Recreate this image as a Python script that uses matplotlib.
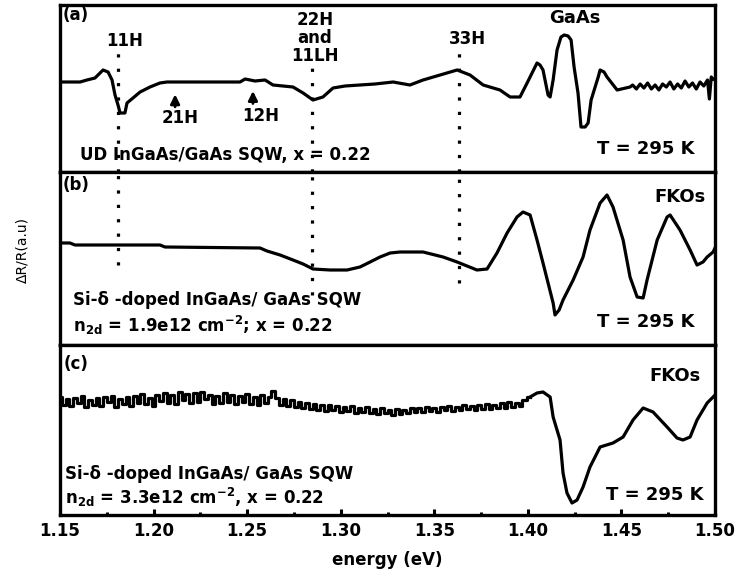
import matplotlib
matplotlib.use("Agg")
import matplotlib.pyplot as plt
from matplotlib.ticker import MultipleLocator, FormatStrFormatter

plt.rcParams['font.family'] = ['DejaVu Sans']
plt.rcParams['mathtext.fontset'] = 'dejavusans'

# ---------------- data (arbitrary units) ----------------
energy_a = [1.1500, 1.1607, 1.1644, 1.1687, 1.1730, 1.1757, 1.1778, 1.1794, 1.1810,
            1.1821, 1.1847, 1.1858, 1.1890, 1.1928, 1.1981, 1.2034, 1.2072, 1.2462,
            1.2489, 1.2542, 1.2596, 1.2638, 1.2745, 1.2799, 1.2852, 1.2905, 1.2959,
            1.3023, 1.3103, 1.3183, 1.3280, 1.3370, 1.3440, 1.3531, 1.3622, 1.3691,
            1.3761, 1.3851, 1.3905, 1.3958, 1.3996, 1.4049, 1.4065, 1.4081, 1.4108,
            1.4119, 1.4135, 1.4156, 1.4177, 1.4194, 1.4215, 1.4231, 1.4247, 1.4268,
            1.4284, 1.4306, 1.4322, 1.4338, 1.4376, 1.4386, 1.4407, 1.4423, 1.4477,
            1.4546, 1.456, 1.458, 1.460, 1.462, 1.464, 1.466, 1.468, 1.470, 1.472,
            1.474, 1.476, 1.478, 1.480, 1.482, 1.484, 1.486, 1.488, 1.490, 1.492,
            1.494, 1.496, 1.497, 1.498, 1.499, 1.500]
signal_a = [1, 1, 3, 5, 13, 11, 3, -12, -22,
            -30, -30, -20, -15, -9, -4, 0, 1, 1,
            4, 2, 3, -2, -4, -10, -17, -14, -5,
            -3, -2, -1, 1, -2, 3, 8, 13, 8,
            -2, -7, -14, -14, 0, 20, 18, 13, -12,
            -14, 3, 33, 46, 48, 47, 43, 16, -10,
            -44, -44, -40, -17, 6, 13, 11, 6, -7,
            -4, -2, -6, -1, -5, 0, -6, -2, -7, -1,
            -4, 1, -6, -1, -5, 2, -4, 0, -6, 1,
            -3, 3, -16, 6, 4, 3]

energy_b = [1.1500, 1.1553, 1.1580, 1.1607, 1.2034, 1.2061, 1.2569, 1.2606, 1.2676,
            1.2745, 1.2799, 1.2852, 1.2943, 1.3034, 1.3103, 1.3157, 1.3210, 1.3264,
            1.3317, 1.3440, 1.3547, 1.3622, 1.3675, 1.3728, 1.3782, 1.3835, 1.3889,
            1.3942, 1.3974, 1.4012, 1.4049, 1.4081, 1.4108, 1.4135, 1.4145, 1.4167,
            1.4188, 1.4242, 1.4295, 1.4332, 1.4386, 1.4423, 1.4455, 1.4509, 1.4546,
            1.4584, 1.4616, 1.4637, 1.4691, 1.4744, 1.4760, 1.4813, 1.4867, 1.4904,
            1.4936, 1.4958, 1.4990, 1.5000]
signal_b = [7, 7, 5, 5, 5, 3, 2, -1, -5,
            -10, -14, -19, -20, -20, -17, -12, -7, -3,
            -2, -2, -7, -12, -16, -20, -19, -3, 17,
            33, 38, 35, 10, -13, -33, -53, -65, -60,
            -50, -30, -7, 20, 47, 55, 43, 10, -27,
            -47, -48, -30, 10, 33, 35, 20, 0, -15,
            -12, -7, -2, 2]

energy_c = [1.150, 1.152, 1.154, 1.156, 1.158, 1.160, 1.162, 1.164, 1.166, 1.168,
            1.170, 1.172, 1.174, 1.176, 1.178, 1.180, 1.182, 1.184, 1.186, 1.188,
            1.190, 1.192, 1.194, 1.196, 1.198, 1.200, 1.202, 1.204, 1.206, 1.208,
            1.210, 1.212, 1.214, 1.216, 1.218, 1.220, 1.222, 1.224, 1.226, 1.228,
            1.230, 1.232, 1.234, 1.236, 1.238, 1.240, 1.242, 1.244, 1.246, 1.248,
            1.250, 1.252, 1.254, 1.256, 1.258, 1.260, 1.262, 1.264, 1.266, 1.268,
            1.270, 1.272, 1.274, 1.276, 1.278, 1.280, 1.282, 1.284, 1.286, 1.288,
            1.290, 1.292, 1.294, 1.296, 1.298, 1.300, 1.302, 1.304, 1.306, 1.308,
            1.310, 1.312, 1.314, 1.316, 1.318, 1.320, 1.322, 1.324, 1.326, 1.328,
            1.330, 1.332, 1.334, 1.336, 1.338, 1.340, 1.342, 1.344, 1.346, 1.348,
            1.350, 1.352, 1.354, 1.356, 1.358, 1.360, 1.362, 1.364, 1.366, 1.368,
            1.370, 1.372, 1.374, 1.376, 1.378, 1.380, 1.382, 1.384, 1.386, 1.388,
            1.390, 1.392, 1.394, 1.396, 1.398,
            1.4012, 1.4049, 1.4081, 1.4119, 1.4135, 1.4172, 1.4188, 1.4209, 1.4236,
            1.4263, 1.4295, 1.4332, 1.4386, 1.4455, 1.4509, 1.4562, 1.4616, 1.4669,
            1.4744, 1.4797, 1.4829, 1.4867, 1.4904, 1.4958, 1.4990, 1.5000]
signal_c = [3, -5, 1, -6, 2, -3, 4, -7, 0, -5,
            2, -6, 3, -2, 4, -7, 1, -4, 3, -6,
            4, -3, 6, -4, 2, -6, 5, -1, 7, -3,
            5, -4, 8, 0, 6, -3, 7, -2, 8, 1,
            5, -4, 4, -3, 7, -2, 5, -4, 4, -2,
            6, -4, 3, -5, 5, -3, 3, 9, 2, -5,
            1, -6, 0, -7, -2, -8, -3, -9, -4, -10,
            -5, -11, -5, -10, -6, -12, -7, -11, -6, -13,
            -8, -12, -7, -13, -9, -14, -8, -13, -10, -15,
            -9, -14, -10, -13, -8, -12, -8, -12, -7, -11,
            -8, -12, -7, -10, -6, -11, -7, -10, -5, -9,
            -6, -10, -5, -9, -4, -9, -5, -8, -3, -8,
            -2, -7, -3, -6, 0,
            3, 7, 8, 3, -17, -40, -73, -93, -103,
            -100, -87, -67, -47, -43, -37, -20, -8, -12,
            -27, -38, -40, -37, -20, -3, 3, 5]
noisy_points_c = 125      # first samples of (c) form the noisy, step-like stretch

marker_lines = [1.181, 1.2845, 1.363]          # 11H, 22H/11LH, 33H
marker_top_a = [0.72, 0.66, 0.73]
marker_bottom_b = [0.46, 0.29, 0.36]

xticks_major = 0.05
xticks_minor = 0.025

# ---------------- figure ----------------
fig = plt.figure(figsize=(7.41, 5.74), dpi=100)
gs = fig.add_gridspec(3, 1, left=60/741, right=715/741, top=1-5/574, bottom=1-515/574,
                      hspace=0, height_ratios=[167, 173, 170])
axes = [fig.add_subplot(gs[i]) for i in range(3)]
ylims = [(-89, 78), (-95, 78), (-115, 55)]

LW = 2.3
axes[0].plot(energy_a, signal_a, color='black', lw=LW, zorder=3)
axes[1].plot(energy_b, signal_b, color='black', lw=LW, zorder=3)
n = noisy_points_c
axes[2].plot(energy_c[:n + 1], signal_c[:n + 1], color='black', lw=LW,
             drawstyle='steps-mid', zorder=3)
axes[2].plot(energy_c[n:], signal_c[n:], color='black', lw=LW, zorder=3)

for ax, yl in zip(axes, ylims):
    ax.set_xlim(1.15, 1.50)
    ax.set_ylim(*yl)
    ax.set_yticks([])
    for sp in ax.spines.values():
        sp.set_linewidth(2.4)
    ax.xaxis.set_major_locator(MultipleLocator(xticks_major))
    ax.xaxis.set_minor_locator(MultipleLocator(xticks_minor))
    ax.tick_params(axis='x', which='both', direction='in', width=2.2, top=False)
    ax.tick_params(axis='x', which='major', length=4)
    ax.tick_params(axis='x', which='minor', length=2)

for ax in axes[:2]:
    ax.tick_params(axis='x', which='both', length=0, labelbottom=False)

axc = axes[2]
axc.xaxis.set_major_formatter(FormatStrFormatter('%.2f'))
axc.tick_params(axis='x', which='major', labelsize=12, pad=5)
for lab in axc.get_xticklabels():
    lab.set_fontweight('bold')
axc.set_xlabel('energy (eV)', fontsize=12, fontweight='bold', labelpad=8)

# dotted marker lines across panels (a) and (b)
for xm, ta, bb in zip(marker_lines, marker_top_a, marker_bottom_b):
    axes[0].axvline(xm, ymin=0, ymax=ta, color='black', lw=2.3,
                    linestyle=(0, (1, 3.5)), dash_capstyle='butt', zorder=2)
    axes[1].axvline(xm, ymin=bb, ymax=1, color='black', lw=2.3,
                    linestyle=(0, (1, 3.5)), dash_capstyle='butt', zorder=2)

TK = dict(fontsize=12, fontweight='bold', color='black')
TS = dict(fontsize=13, fontweight='bold', color='black')
axa, axb = axes[0], axes[1]
xt = axa.get_xaxis_transform()

# panel (a)
axa.text(0.004, 0.995, '(a)', transform=axa.transAxes, ha='left', va='top', **TK)
axa.text(1.1847, 0.783, '11H', transform=xt, ha='center', va='center', **TK)
axa.text(1.2863, 0.80, '22H\nand\n11LH', transform=xt, ha='center', va='center',
         multialignment='center', linespacing=1.0, **TK)
axa.text(1.3675, 0.795, '33H', transform=xt, ha='center', va='center', **TK)
axa.text(1.4252, 0.92, 'GaAs', transform=xt, ha='center', va='center', **TS)
axa.text(1.2141, 0.325, '21H', transform=xt, ha='center', va='center', **TK)
axa.text(1.2574, 0.337, '12H', transform=xt, ha='center', va='center', **TK)
arrow_kw = dict(arrowstyle='-|>,head_width=0.45,head_length=0.9', mutation_scale=6,
                color='black', lw=2, shrinkA=0, shrinkB=0)
axa.annotate('', xy=(1.2115, 0.465), xytext=(1.2115, 0.39), xycoords=xt, textcoords=xt,
             arrowprops=arrow_kw)
axa.annotate('', xy=(1.2531, 0.485), xytext=(1.2531, 0.41), xycoords=xt, textcoords=xt,
             arrowprops=arrow_kw)
axa.text(0.03, 0.10, 'UD InGaAs/GaAs SQW, x = 0.22', transform=axa.transAxes,
         ha='left', va='center', **TK)
axa.text(0.969, 0.14, 'T = 295 K', transform=axa.transAxes, ha='right', va='center', **TS)

# panel (b)
axb.text(0.004, 0.975, '(b)', transform=axb.transAxes, ha='left', va='top', **TK)
axb.text(0.985, 0.855, 'FKOs', transform=axb.transAxes, ha='right', va='center', **TS)
axb.text(0.02, 0.26, 'Si-δ -doped InGaAs/ GaAs SQW', transform=axb.transAxes,
         ha='left', va='center', **TK)
axb.text(0.02, 0.115, r'n$_{\mathbf{2d}}$ = 1.9e12 cm$^{\mathbf{-2}}$; x = 0.22',
         transform=axb.transAxes, ha='left', va='center', **TK)
axb.text(0.969, 0.133, 'T = 295 K', transform=axb.transAxes, ha='right', va='center', **TS)

# panel (c)
axc.text(0.006, 0.94, '(c)', transform=axc.transAxes, ha='left', va='top', **TK)
axc.text(0.978, 0.82, 'FKOs', transform=axc.transAxes, ha='right', va='center', **TS)
axc.text(0.008, 0.24, 'Si-δ -doped InGaAs/ GaAs SQW', transform=axc.transAxes,
         ha='left', va='center', **TK)
axc.text(0.008, 0.105, r'n$_{\mathbf{2d}}$ = 3.3e12 cm$^{\mathbf{-2}}$, x = 0.22',
         transform=axc.transAxes, ha='left', va='center', **TK)
axc.text(0.982, 0.118, 'T = 295 K', transform=axc.transAxes, ha='right', va='center', **TS)

fig.text(22/741, 1-250/574, 'ΔR/R(a.u)', rotation=90, ha='center', va='center',
         fontsize=10)

fig.savefig('out.png', dpi=100)
